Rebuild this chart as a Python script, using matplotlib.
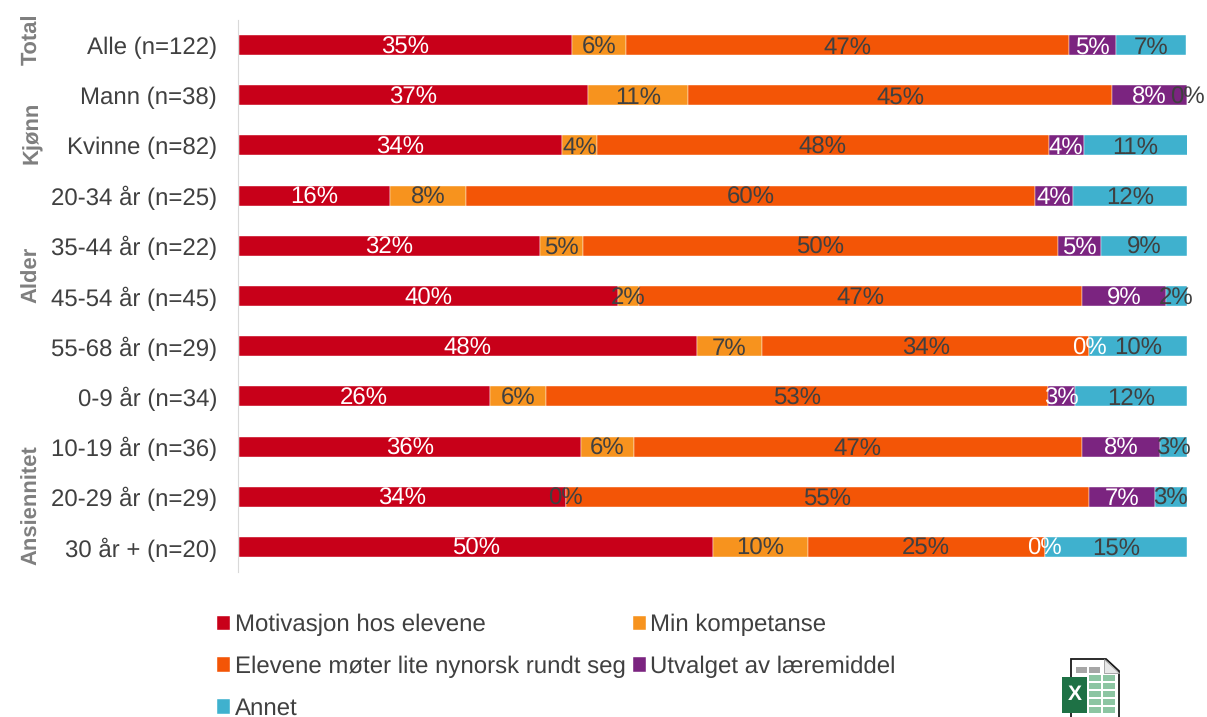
import matplotlib.pyplot as plt
from matplotlib.patches import Polygon, Rectangle
from matplotlib.transforms import blended_transform_factory

plt.rcParams['font.family'] = ['Liberation Sans', 'DejaVu Sans']
plt.rcParams['text.hinting'] = 'no_hinting'
plt.rcParams['text.hinting_factor'] = 1

categories = ['Alle (n=122)', 'Mann (n=38)', 'Kvinne (n=82)', '20-34 år (n=25)',
              '35-44 år (n=22)', '45-54 år (n=45)', '55-68 år (n=29)', '0-9 år (n=34)',
              '10-19 år (n=36)', '20-29 år (n=29)', '30 år + (n=20)']
motivasjon = [35.2, 36.8, 34.1, 16.0, 31.8, 40.0, 48.3, 26.5, 36.1, 34.5, 50.0]
kompetanse = [5.7, 10.6, 3.7, 8.0, 4.55, 2.2, 6.9, 5.9, 5.6, 0.0, 10.0]
nynorsk = [46.7, 44.7, 47.6, 60.0, 50.0, 46.7, 34.5, 52.9, 47.2, 55.2, 25.0]
utvalget = [4.9, 7.9, 3.7, 4.0, 4.55, 8.9, 0.0, 2.9, 8.3, 6.9, 0.0]
annet = [7.4, 0.0, 11.0, 12.0, 9.1, 2.2, 10.3, 11.8, 2.8, 3.4, 15.0]

series_names = ['Motivasjon hos elevene', 'Min kompetanse',
                'Elevene møter lite nynorsk rundt seg', 'Utvalget av læremiddel', 'Annet']
series_values = [motivasjon, kompetanse, nynorsk, utvalget, annet]
colors = ['#C80019', '#F7931E', '#F35506', '#7B2480', '#3FB1CE']
label_colors = ['white', '#404040', '#404040', 'white', '#404040']

groups = ['Total', 'Kjønn', 'Alder', 'Ansiennitet']
group_rows = [-0.12, 1.75, 4.58, 9.17]

W, H = 1207, 717
fig = plt.figure(figsize=(W / 100, H / 100), dpi=100)
ax = fig.add_axes([238.5 / W, 1 - 572 / H, 948.5 / W, 552 / H])

ys = range(len(categories))
left = [0.0] * len(categories)
handles = []
for vals, name, col in zip(series_values, series_names, colors):
    bars = ax.barh(ys, vals, left=left, height=0.4, color=col, label=name,
                   edgecolor='white', linewidth=0.3, zorder=2)
    handles.append(bars)
    left = [a + b for a, b in zip(left, vals)]

# labels go on after all the bars so they sit on top of the neighbours
for bars, lab_col in zip(handles, label_colors):
    labs = ax.bar_label(bars, fmt='%.0f%%', label_type='center', color=lab_col, fontsize=17)
    for t in labs:
        t.set_zorder(5)
        t.set_clip_on(False)
        t.xyann = (0, -1.5)

# spine position first, it resets the ticks
for s in ['top', 'right', 'bottom']:
    ax.spines[s].set_visible(False)
ax.spines['left'].set_color('#D9D9D9')
ax.spines['left'].set_position(('outward', 0.5))

ax.set_xlim(0, 100)
ax.set_ylim(len(categories) - 0.5, -0.5)
ax.set_xticks([])
ax.set_yticks(list(ys))
ax.set_yticklabels(categories, fontsize=17, color='#404040')
ax.tick_params(axis='y', length=0, pad=15)

trans = blended_transform_factory(fig.transFigure, ax.transData)
for g, row in zip(groups, group_rows):
    ax.text(32 / W, row, g, transform=trans, rotation=90, ha='center', va='center',
            fontsize=15.5, fontweight='bold', color='#7F7F7F')

# legend fills column by column, so reorder to get the rows of the original
order = [0, 2, 4, 1, 3]
fig.legend([handles[i] for i in order], [series_names[i] for i in order], ncol=2,
           loc='upper left', bbox_to_anchor=(217 / W, 1 - 614 / H), frameon=False,
           fontsize=17.25, labelcolor='#404040', handlelength=0.55, handleheight=0.55,
           handletextpad=0.2, columnspacing=0.28, labelspacing=0.81, borderpad=0,
           borderaxespad=0)

# excel icon in the lower right corner, in pixel coordinates
icon = fig.add_axes([0, 0, 1, 1], zorder=10)
icon.set_xlim(0, W)
icon.set_ylim(H, 0)
icon.axis('off')
icon.patch.set_alpha(0)
icon.add_patch(Polygon([(1071, 720), (1071, 659), (1106, 659), (1119, 671), (1119, 720)],
                       closed=True, facecolor='white', edgecolor='#1A1A1A', linewidth=1.3))
icon.add_patch(Polygon([(1104, 659), (1104, 673), (1119, 673)], closed=True,
                       facecolor='#E8E8E8', edgecolor='#9A9A9A', linewidth=0.6))
for x in [1076, 1089]:
    icon.add_patch(Rectangle((x, 667), 11, 6, color='#A6A6A6', lw=0))
for x, c in [(1089, '#8CC5A2'), (1103, '#8CC5A2')]:
    for y in [675, 683, 691, 699, 707]:
        icon.add_patch(Rectangle((x, y), 12, 6, color=c, lw=0))
icon.add_patch(Rectangle((1062, 677), 25, 36, color='#1E7145', lw=0))
icon.text(1074.5, 695, 'X', color='white', fontsize=15, fontweight='bold',
          ha='center', va='center')

fig.savefig('out.png', dpi=100)
